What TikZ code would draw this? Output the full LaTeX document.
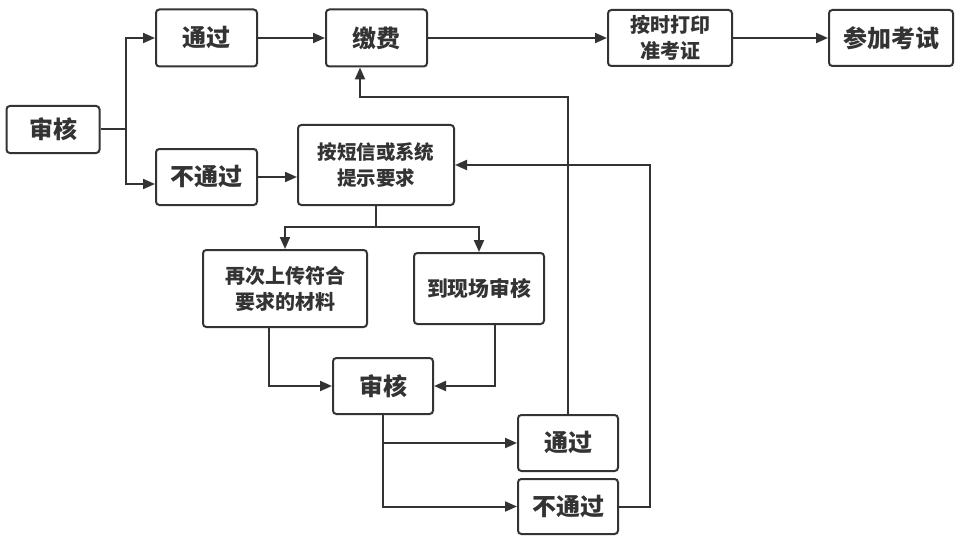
\documentclass[tikz,border=0pt]{standalone}
\usepackage{fontspec}
\setmainfont{Noto Sans CJK SC}
\usepackage{tikz}
\usetikzlibrary{%
  positioning
 ,arrows.meta
 ,calc
}
\definecolor{ln}{HTML}{333333}
\tikzstyle{flow}=[x=0.75pt,y=-0.75pt,line width=1.5pt,draw=ln,text=ln,font=\bfseries,
  >={Triangle[length=9pt,width=7.5pt]}]
\tikzstyle{st}=[rectangle,rounded corners=2.5pt,draw=ln,line width=1.5pt,fill=white,
  inner sep=2pt,align=center,font=\fontsize{18pt}{22pt}\selectfont\bfseries]
\tikzstyle{sst}=[st,font=\fontsize{15pt}{19.5pt}\selectfont\bfseries]

\begin{document}
\begin{tikzpicture}[flow]
      \useasboundingbox (0,0) rectangle (961,542);
      \node[st,minimum width=69.75pt,minimum height=35.25pt]  (s_0) at (53,129.5) {审核};
      \node[st,minimum width=75.75pt,minimum height=42.75pt] (s_1) at (206.5,38) {通过};
      \node[st,minimum width=75.75pt,minimum height=42.75pt] (s_2) at (376.5,38) {缴费};
      \node[sst,minimum width=93pt,minimum height=42pt] (s_3) at (670,38) {按时打印\\准考证};
      \node[st,minimum width=93pt,minimum height=42pt] (s_4) at (891,38) {参加考试};
      \node[st,minimum width=75.75pt,minimum height=42pt] (s_5) at (206.5,177) {不通过};
      \node[sst,minimum width=117pt,minimum height=60pt,font=\fontsize{14.6pt}{19pt}\selectfont\bfseries] (s_6) at (376,165) {按短信或系统\\提示要求};
      \node[sst,minimum width=123pt,minimum height=57.75pt] (s_7) at (285,288.5) {再次上传符合\\要求的材料};
      \node[sst,minimum width=97.5pt,minimum height=53.25pt,font=\fontsize{15.6pt}{19pt}\selectfont\bfseries] (s_8) at (479,288.5) {到现场审核};
      \node[st,minimum width=75pt,minimum height=42pt] (s_9) at (383,386) {审核};
      \node[st,minimum width=75pt,minimum height=42pt] (s_10) at (568,443) {通过};
      \node[st,minimum width=75pt,minimum height=41.25pt] (s_11) at (568,506.5) {不通过};
      % branch points
      \coordinate (fork) at (126,129.5);
      \coordinate (split) at (377,227);
      \coordinate (ret) at (360,97);
      \coordinate (loop) at (650,0);
      \draw (s_0) -- (fork);
      \draw[->] (fork) |- (s_1);
      \draw[->] (fork) |- ([yshift=-5.25pt]s_5.west);
      \path[->]
        (s_1) edge (s_2)
        (s_2) edge (s_3)
        (s_3) edge (s_4)
        (s_5.east) edge (s_6.west |- s_5.east);
      \draw (s_6.south) -- (s_6.south |- split);
      \draw[->] (s_6.south |- split) -| (s_7.north);
      \draw[->] (s_6.south |- split) -| (s_8.north);
      \draw[->] ([xshift=-12pt]s_7.south) |- (s_9.west);
      \draw[->] ([xshift=12pt]s_8.south) |- (s_9.east);
      \draw[->] (s_9.south) |- (s_10.west);
      \draw[->] (s_9.south) |- (s_11.west);
      \draw[->] (s_10.north) |- (ret) -- (ret |- s_2.south);
      \draw[->] (s_11.east) -| (loop |- s_6.east) -- (s_6.east);
\end{tikzpicture}
\end{document}
